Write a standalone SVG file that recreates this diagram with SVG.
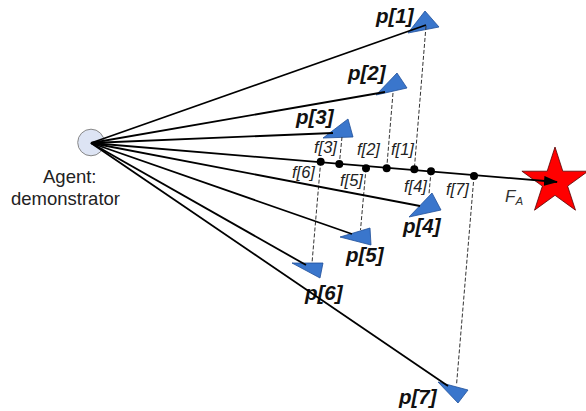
<svg xmlns="http://www.w3.org/2000/svg" width="586" height="411" viewBox="0 0 586 411">
<style>
.tri{fill:#3a76cc;stroke:#1f4f99;stroke-width:0.8}
.ray{stroke:#000;stroke-width:1.8;fill:none}
.dash{stroke:#333;stroke-width:1;stroke-dasharray:4,2;fill:none}
.dot{fill:#000}
.pl{font-family:"Liberation Sans",Arial,sans-serif;font-size:20.5px;font-weight:bold;font-style:italic;fill:#111}
.fl{font-family:"Liberation Sans",Arial,sans-serif;font-size:16.5px;font-style:italic;fill:#222}
.ag{font-family:"Liberation Sans",Arial,sans-serif;font-size:18.5px;fill:#222}
</style>
<defs>
<marker id="ah" markerWidth="14" markerHeight="10" refX="13" refY="5" orient="auto" markerUnits="userSpaceOnUse">
<path d="M0,0 L14,5 L0,10 Z" fill="#000"/>
</marker>
</defs>
<g id="star"><polygon points="555,147 562.8,171.2 588.1,171.2 567.6,186.1 575.5,210.2 555,195.3 534.5,210.2 542.4,186.1 521.9,171.2 547.2,171.2" fill="#ff0000" stroke="#550000" stroke-width="0.8"/></g>
<g id="p1"><polygon class="tri" points="425,11 439,27 408,33"/><text class="pl" x="376" y="23">p[1]</text></g>
<g id="p2"><polygon class="tri" points="397,73 407,88 376,95"/><text class="pl" x="348" y="80">p[2]</text></g>
<g id="p3"><polygon class="tri" points="348,119 353,137 323,138"/><text class="pl" x="296" y="124">p[3]</text></g>
<g id="p4"><polygon class="tri" points="432,193 441,210 409,217"/><text class="pl" x="403" y="233">p[4]</text></g>
<g id="p5"><polygon class="tri" points="370,228 371,245 340,237"/><text class="pl" x="346" y="262">p[5]</text></g>
<g id="p6"><polygon class="tri" points="323,263 320,278 292,263"/><text class="pl" x="305" y="300">p[6]</text></g>
<g id="p7"><polygon class="tri" points="438,382 468,390 458,403"/><text class="pl" x="399" y="404">p[7]</text></g>
<g id="agent"><circle cx="91" cy="142.5" r="13.3" fill="#dde4f4" stroke="#888" stroke-width="1"/><text class="ag" x="43" y="183">Agent:</text><text class="ag" x="11" y="205">demonstrator</text></g>
<g id="connectors">
<line class="dash" x1="426" y1="26" x2="414.3" y2="169.3"/>
<line class="dash" x1="393" y1="93" x2="386.7" y2="168.3"/>
<line class="dash" x1="342" y1="137" x2="339.3" y2="164"/>
<line class="dash" x1="431" y1="171.3" x2="429" y2="194"/>
<line class="dash" x1="366" y1="168.3" x2="360.5" y2="230"/>
<line class="dash" x1="320.7" y1="161.7" x2="312" y2="263"/>
<line class="dash" x1="474" y1="176" x2="456.5" y2="385"/>
<line class="ray" x1="91" y1="143" x2="426" y2="25"/>
<line class="ray" x1="91" y1="143" x2="385" y2="92"/>
<line class="ray" x1="91" y1="143" x2="333" y2="133"/>
<line class="ray" x1="91" y1="143" x2="420" y2="206"/>
<line class="ray" x1="91" y1="143" x2="352" y2="234"/>
<line class="ray" x1="91" y1="143" x2="306" y2="265"/>
<line class="ray" x1="91" y1="143" x2="448" y2="386"/>
<line class="ray" x1="91" y1="143" x2="557" y2="182" marker-end="url(#ah)"/>
<circle class="dot" cx="320.7" cy="161.7" r="4"/>
<circle class="dot" cx="339.3" cy="164" r="4"/>
<circle class="dot" cx="366" cy="168.3" r="4"/>
<circle class="dot" cx="386.7" cy="168.3" r="4"/>
<circle class="dot" cx="414.3" cy="169.3" r="4"/>
<circle class="dot" cx="431" cy="171.3" r="4"/>
<circle class="dot" cx="474" cy="176" r="4"/>
</g>
<g id="labels">
<text class="fl" x="314" y="153">f[3]</text>
<text class="fl" x="357" y="155">f[2]</text>
<text class="fl" x="391" y="155">f[1]</text>
<text class="fl" x="292" y="178">f[6]</text>
<text class="fl" x="340" y="186">f[5]</text>
<text class="fl" x="404" y="192">f[4]</text>
<text class="fl" x="446" y="195">f[7]</text>
<text font-family="Liberation Sans,Arial,sans-serif" font-style="italic" font-size="17" fill="#333" x="505" y="202">F<tspan font-size="11.5" dy="3">A</tspan></text>
</g>
</svg>
